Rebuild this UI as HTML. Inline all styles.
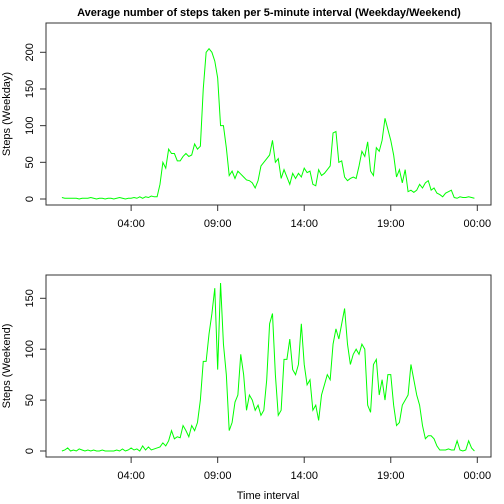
<!DOCTYPE html>
<html><head><meta charset="utf-8"><style>
html,body{margin:0;padding:0;background:#fff;}
svg{display:block;font-family:"Liberation Sans",sans-serif;}
</style></head><body>
<svg id="chart" width="504" height="504" viewBox="0 0 504 504">
<rect width="504" height="504" fill="#fff"/>
<text x="269" y="16" text-anchor="middle" font-size="11" font-weight="bold">Average number of steps taken per 5-minute interval (Weekday/Weekend)</text>
<text x="268" y="499" text-anchor="middle" font-size="11">Time interval</text>
<g id="g1"></g><g id="g2"></g>
</svg>
<script>
const weekday=[2,1,1,1,1,1,0,1,1,1,2,1,0,1,1,0,1,1,0,1,2,1,0,1,1,2,1,3,1,3,2,4,3,3,20,50,42,68,62,62,52,52,58,62,58,60,75,68,72,150,200,205,200,188,165,100,100,70,32,38,28,38,34,30,26,25,22,15,25,45,50,55,60,80,50,55,28,40,30,20,35,28,35,30,42,36,38,20,18,40,32,35,40,45,90,92,50,52,30,25,28,30,28,45,65,58,78,38,32,70,65,80,110,95,80,60,30,40,22,40,10,12,9,12,20,15,22,25,12,15,8,6,3,8,10,12,2,1,3,2,2,3,2,1];
const weekend=[0,1,3,0,1,0,2,1,0,1,0,1,0,0,1,0,0,0,0,1,0,2,0,1,3,1,2,0,5,1,4,1,2,3,4,8,5,10,20,12,14,13,25,20,14,25,20,28,50,88,88,115,135,160,80,165,105,75,20,28,48,55,95,75,40,55,50,40,45,35,40,70,125,135,75,35,40,90,90,110,80,75,85,125,85,65,70,40,45,30,55,65,75,70,105,120,110,125,140,105,85,95,100,95,105,100,45,38,85,90,55,70,50,75,75,45,25,28,45,50,55,85,70,55,45,25,12,15,15,12,5,1,1,1,2,1,1,10,1,0,1,10,3,0];
const xTickLabels=["04:00","09:00","14:00","19:00","00:00"];
const xTickMinutes=[240,540,840,1140,1440];
const yTicks1=[0,50,100,150,200];
const yTicks2=[0,50,100,150];
const NS="http://www.w3.org/2000/svg";
function mk(p,tag,a){const e=document.createElementNS(NS,tag);for(const k in a)e.setAttribute(k,a[k]);p.appendChild(e);return e;}
function panel(gid,data,yTicks,box,y0,yScale,ylabel,nm){
  const g=document.getElementById(gid);
  const xs=m=>61.9+m*(415.4/1440);
  const ys=v=>y0-v*yScale;
  const r=mk(g,'rect',{x:box[0],y:box[1],width:box[2]-box[0],height:box[3]-box[1],fill:'none',stroke:'#333','stroke-width':1});
  
  
  let d='';
  data.forEach((v,i)=>{d+=(i?'L':'M')+xs(i*10).toFixed(2)+','+ys(v).toFixed(2);});
  const ln=mk(g,'path',{d:d,fill:'none',stroke:'#00ff00','stroke-width':1});
  
  
  mk(g,'line',{x1:xs(xTickMinutes[0]),x2:xs(xTickMinutes[xTickMinutes.length-1]),y1:box[3],y2:box[3],stroke:'#333'});
  xTickMinutes.forEach((m,i)=>{
    mk(g,'line',{x1:xs(m),x2:xs(m),y1:box[3],y2:box[3]+6,stroke:'#333'});
    const t=mk(g,'text',{x:xs(m),y:box[3]+22,'text-anchor':'middle','font-size':11});
    t.textContent=xTickLabels[i];
    
    
  });
  mk(g,'line',{x1:box[0],x2:box[0],y1:ys(yTicks[0]),y2:ys(yTicks[yTicks.length-1]),stroke:'#333'});
  yTicks.forEach(v=>{
    mk(g,'line',{x1:box[0]-6,x2:box[0],y1:ys(v),y2:ys(v),stroke:'#333'});
    const t=mk(g,'text',{x:0,y:0,'text-anchor':'middle','font-size':11,transform:`translate(33,${ys(v)}) rotate(-90)`});
    t.textContent=v;
    
    
  });
  const yl=mk(g,'text',{x:0,y:0,'text-anchor':'middle','font-size':11,transform:`translate(10,${(box[1]+box[3])/2}) rotate(-90)`});
  yl.textContent=ylabel;
  
  
}
panel('g1',weekday,yTicks1,[46,23,491,205],199,0.7335,'Steps (Weekday)','weekday');
panel('g2',weekend,yTicks2,[46,275,491,457],451,1.018,'Steps (Weekend)','weekend');
</script>
</body></html>
